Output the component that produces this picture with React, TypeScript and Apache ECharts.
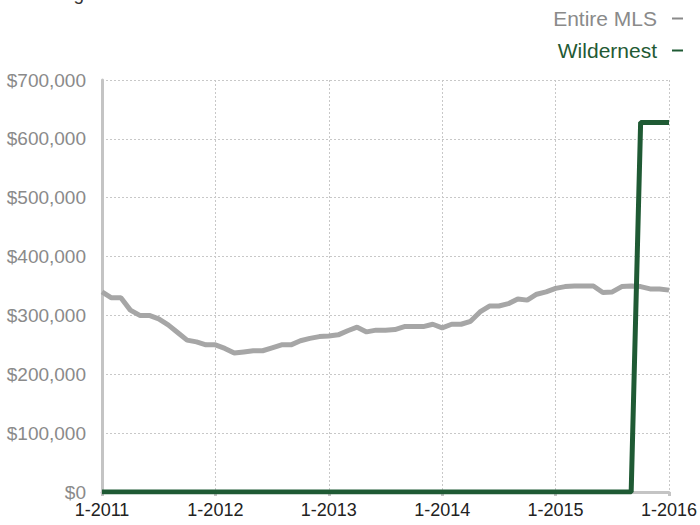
import React, { useEffect, useRef } from "react";
import * as echarts from "echarts";

const titleText = "Rolling 12-Month Calculation";
const startYear = 2011;
const endYear = 2016;
const months: string[] = [];
for (let y = startYear; y <= endYear; y++) {
  for (let m = 1; m <= 12; m++) {
    if (y === endYear && m > 1) break;
    months.push(`${m}-${y}`);
  }
}

const entireMLS = [
  340000, 330000, 330000, 309000, 300000, 300000, 294000, 284000, 271000, 258000,
  255000, 250000, 250000, 244000, 236000, 238000, 240000, 240000, 245000, 250000,
  250000, 257000, 261000, 264000, 265000, 267000, 274000, 280000, 272000, 275000,
  275000, 276000, 281000, 281000, 281000, 285000, 279000, 285000, 285000, 290000,
  306000, 316000, 316000, 320000, 328000, 326000, 336000, 340000, 346000, 349000,
  350000, 350000, 350000, 339000, 340000, 349000, 350000, 349000, 345000, 345000,
  343000,
];

const wildernest = [
  0, 0, 0, 0, 0, 0, 0, 0, 0, 0,
  0, 0, 0, 0, 0, 0, 0, 0, 0, 0,
  0, 0, 0, 0, 0, 0, 0, 0, 0, 0,
  0, 0, 0, 0, 0, 0, 0, 0, 0, 0,
  0, 0, 0, 0, 0, 0, 0, 0, 0, 0,
  0, 0, 0, 0, 0, 0, 0, 628000, 628000, 628000,
  628000,
];

const seriesNames = ["Entire MLS", "Wildernest"];
const GRAY = "#a6a6a6";
const GREEN = "#1f5a34";
const LEGEND_GRAY = "#8a8a8a";
const FONT = "'Liberation Sans', Arial, Helvetica, sans-serif";

export default function App() {
  const ref = useRef<HTMLDivElement>(null);
  useEffect(() => {
    if (!ref.current) return;
    const chart = echarts.init(ref.current, undefined, { renderer: "svg" });
    chart.setOption({
      animation: false,
      backgroundColor: "#ffffff",
      textStyle: { fontFamily: FONT },
      grid: { left: 102, right: 28, top: 80, bottom: 33, containLabel: false },
      graphic: [
        {
          type: "text",
          x: 26,
          y: -16,
          style: { text: titleText, fontSize: 19, fontFamily: FONT, fill: "#333333" },
        },
        {
          type: "text",
          x: 657,
          y: 18,
          style: {
            text: seriesNames[0],
            fontSize: 21,
            fontFamily: FONT,
            fill: LEGEND_GRAY,
            align: "right",
            verticalAlign: "middle",
          },
        },
        {
          type: "line",
          shape: { x1: 672, y1: 18.5, x2: 683, y2: 18.5 },
          style: { stroke: LEGEND_GRAY, lineWidth: 2 },
        },
        {
          type: "text",
          x: 657,
          y: 50,
          style: {
            text: seriesNames[1],
            fontSize: 21,
            fontFamily: FONT,
            fill: GREEN,
            align: "right",
            verticalAlign: "middle",
          },
        },
        {
          type: "line",
          shape: { x1: 672, y1: 50.5, x2: 683, y2: 50.5 },
          style: { stroke: GREEN, lineWidth: 2 },
        },
      ],
      xAxis: {
        type: "category",
        data: months,
        boundaryGap: false,
        axisLine: { show: true, lineStyle: { color: "#c4c4c4", width: 3 } },
        axisTick: { show: true, interval: 11, length: 4, lineStyle: { color: "#c4c4c4", width: 3 } },
        axisLabel: { interval: 11, color: "#222222", fontSize: 18, margin: 9, fontFamily: FONT },
        splitLine: { show: true, interval: 11, lineStyle: { color: "#c8c8c8", type: [2, 2], width: 1 } },
      },
      yAxis: {
        type: "value",
        min: 0,
        max: 700000,
        interval: 100000,
        axisLine: { show: true, lineStyle: { color: "#c4c4c4", width: 3 } },
        axisTick: { show: false },
        axisLabel: {
          color: "#8a8a8a",
          fontSize: 19,
          margin: 16,
          fontFamily: FONT,
          formatter: (v: number) => "$" + v.toLocaleString("en-US"),
        },
        splitLine: { show: true, lineStyle: { color: "#c8c8c8", type: [2, 2], width: 1 } },
      },
      series: [
        {
          name: seriesNames[0],
          type: "line",
          data: entireMLS,
          symbol: "none",
          lineStyle: { color: GRAY, width: 5 },
          itemStyle: { color: GRAY },
        },
        {
          name: seriesNames[1],
          type: "line",
          data: wildernest,
          symbol: "none",
          lineStyle: { color: GREEN, width: 5 },
          itemStyle: { color: GREEN },
        },
      ],
    });
    return () => chart.dispose();
  }, []);
  return <div ref={ref} style={{ width: 700, height: 525, position: "fixed", left: 0, top: 0 }} />;
}
